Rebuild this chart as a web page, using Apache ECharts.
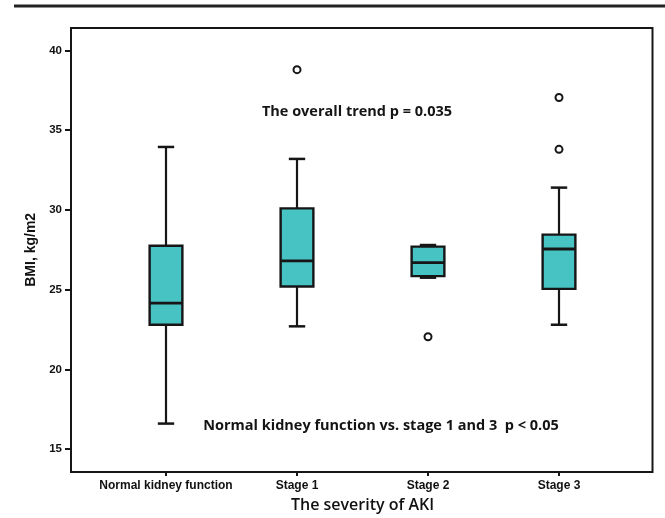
<!DOCTYPE html>
<html>
<head>
<meta charset="utf-8">
<script src="https://cdn.jsdelivr.net/npm/echarts@6/dist/echarts.min.js"></script>
<style>
  html, body { margin: 0; padding: 0; background: #fff; }
  #chart { width: 665px; height: 518px; }
</style>
</head>
<body>
<div id="chart"></div>
<script>
// categories on the x axis
const groups = ['Normal kidney function', 'Stage 1', 'Stage 2', 'Stage 3'];
// five-number summaries: min, q1, median, q3, max
const whiskerLow = [16.6, 22.7, 25.75, 22.8];
const boxLow = [22.8, 25.2, 25.85, 25.05];
const medians = [24.15, 26.8, 26.7, 27.55];
const boxHigh = [27.75, 30.1, 27.7, 28.45];
const whiskerHigh = [33.95, 33.2, 27.8, 31.4];
// outliers: group index and value
const outlierGroup = [1, 2, 3, 3];
const outlierValue = [38.8, 22.05, 37.05, 33.8];
// y axis ticks
const yTicks = { min: 15, max: 40, step: 5 };

const boxData = groups.map((g, i) => [i, whiskerLow[i], boxLow[i], medians[i], boxHigh[i], whiskerHigh[i]]);
const outliers = outlierGroup.map((g, i) => [g, outlierValue[i]]);

const ink = '#161616';

function renderBox(params, api) {
  const i = api.value(0);
  const lo = api.coord([i, api.value(1)]);
  const q1 = api.coord([i, api.value(2)]);
  const md = api.coord([i, api.value(3)]);
  const q3 = api.coord([i, api.value(4)]);
  const hi = api.coord([i, api.value(5)]);
  const bw = api.size([1, 0])[0] * 0.25;
  const cw = bw / 2;
  const cx = md[0];
  const line = (x1, y1, x2, y2, w) => ({
    type: 'line',
    shape: { x1, y1, x2, y2 },
    style: { stroke: ink, lineWidth: w || 2.2 },
  });
  return {
    type: 'group',
    children: [
      line(cx, hi[1], cx, q3[1]),
      line(cx, q1[1], cx, lo[1]),
      line(cx - cw / 2, hi[1], cx + cw / 2, hi[1], 2.5),
      line(cx - cw / 2, lo[1], cx + cw / 2, lo[1], 2.5),
      {
        type: 'rect',
        shape: { x: cx - bw / 2, y: q3[1], width: bw, height: q1[1] - q3[1] },
        style: { fill: '#48c3c3', stroke: ink, lineWidth: 2.4 },
      },
      line(cx - bw / 2, md[1], cx + bw / 2, md[1], 2.8),
    ],
  };
}

const chart = echarts.init(document.getElementById('chart'));
chart.setOption({
  backgroundColor: '#fff',
  animation: false,
  grid: [
    // the frame
    { left: 71, right: 12.5, top: 28, bottom: 46, show: true, borderColor: ink, borderWidth: 2, backgroundColor: 'transparent' },
    // the data area
    { left: 100.5, right: 40.5, top: 50.5, bottom: 67.7 },
  ],
  xAxis: [
    { gridIndex: 0, type: 'value', show: false },
    {
      gridIndex: 1,
      type: 'category',
      data: groups,
      offset: 22,
      axisLine: { show: false },
      axisTick: { show: true, alignWithLabel: true, length: 5, lineStyle: { color: ink, width: 2 } },
      axisLabel: { interval: 0, margin: 9, color: '#111', fontFamily: 'Liberation Sans, Arial', fontWeight: 'bold', fontSize: 12 },
      name: 'The severity of AKI',
      nameLocation: 'middle',
      nameGap: 25,
      nameTextStyle: { color: '#111', fontFamily: 'Open Sans', fontWeight: 600, fontSize: 16 },
    },
  ],
  yAxis: [
    { gridIndex: 0, type: 'value', show: false },
    {
      gridIndex: 1,
      type: 'value',
      min: yTicks.min,
      max: yTicks.max,
      interval: yTicks.step,
      offset: 29.5,
      axisLine: { show: false },
      axisTick: { show: true, length: 6, lineStyle: { color: ink, width: 2 } },
      axisLabel: { margin: 9, color: '#111', fontFamily: 'Liberation Sans, Arial', fontWeight: 'bold', fontSize: 11.5 },
      splitLine: { show: false },
      name: 'BMI, kg/m2',
      nameLocation: 'middle',
      nameGap: 30,
      nameTextStyle: { color: '#111', fontFamily: 'Liberation Sans, Arial', fontWeight: 'bold', fontSize: 14 },
    },
  ],
  graphic: [
    { type: 'line', shape: { x1: 14, y1: 6, x2: 665, y2: 6 }, style: { stroke: '#222', lineWidth: 3 } },
    {
      type: 'text', x: 357, y: 112,
      style: { text: 'The overall trend p = 0.035', fill: '#141414', font: 'bold 14.5px "Open Sans"', textAlign: 'center', textVerticalAlign: 'middle' },
    },
    {
      type: 'text', x: 381, y: 426,
      style: { text: 'Normal kidney function vs. stage 1 and 3  p < 0.05', fill: '#141414', font: 'bold 14.5px "Open Sans"', textAlign: 'center', textVerticalAlign: 'middle' },
    },
  ],
  series: [
    {
      type: 'custom',
      xAxisIndex: 1,
      yAxisIndex: 1,
      renderItem: renderBox,
      encode: { x: 0, y: [1, 2, 3, 4, 5] },
      data: boxData,
    },
    {
      type: 'scatter',
      xAxisIndex: 1,
      yAxisIndex: 1,
      symbol: 'circle',
      symbolSize: 7,
      itemStyle: { color: '#fff', borderColor: ink, borderWidth: 2, opacity: 1 },
      data: outliers,
    },
  ],
});
window.addEventListener('resize', () => { chart.resize(); });
</script>
</body>
</html>
